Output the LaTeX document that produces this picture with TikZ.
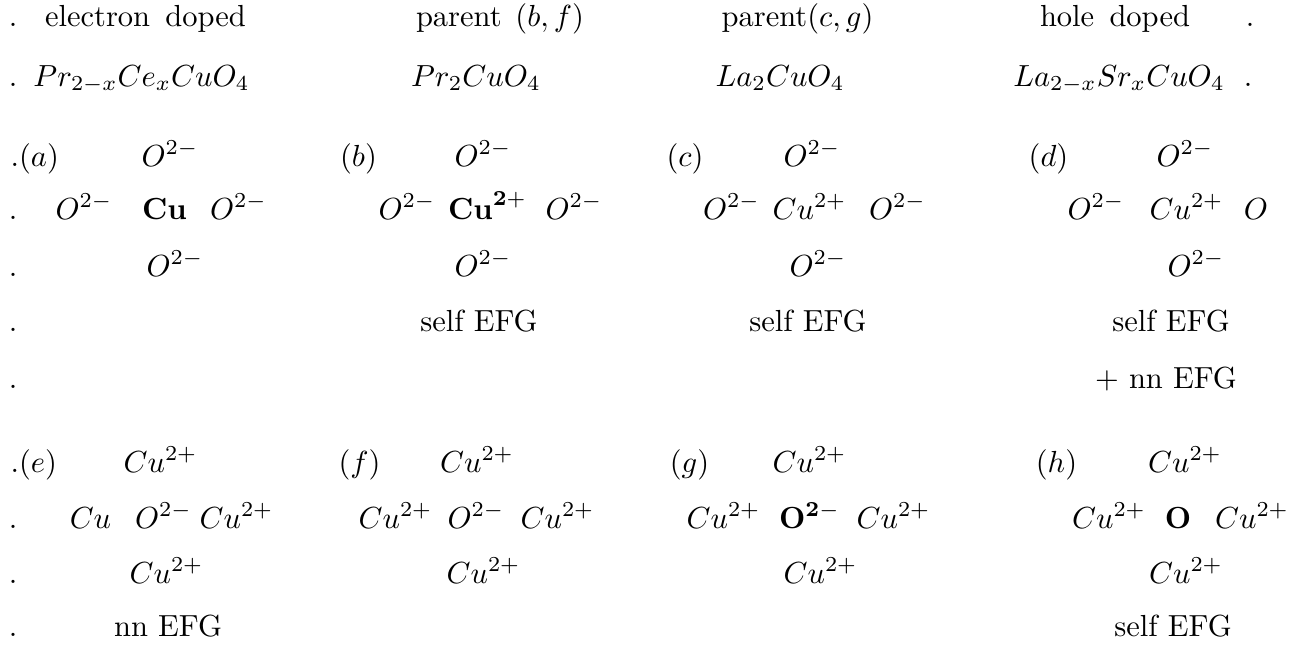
\documentclass[tikz,border=0pt]{standalone}
\begin{document}
\begin{tikzpicture}[x=0.3279pt,y=-0.3279pt,
  t/.style={inner sep=0pt, anchor=base, font=\fontsize{10}{12}\selectfont},
  tl/.style={t, anchor=base west}]
\useasboundingbox (0,0) rectangle (1306,646);
% row 1
\node[t] (d1) at (13,26) {.};
\node[t] (h1) at (145.5,26) {electron\hspace{5pt}doped};
\node[t] (h2) at (500,26) {parent\hspace{4.5pt}$(b,f)$};
\node[t] (h3) at (797.5,26) {parent$(c,g)$};
\node[t] (h4) at (1115,26) {hole\hspace{5pt}doped};
\node[t] (e1) at (1250,26) {.};
% row 2
\node[t] (d2) at (13,86) {.};
\node[t] (f1) at (141.5,86) {$Pr_{2-x}Ce_xCuO_4$};
\node[t] (f2) at (476,86) {$Pr_2CuO_4$};
\node[t] (f3) at (780,86) {$La_2CuO_4$};
\node[t] (f4) at (1119,86) {$La_{2-x}Sr_xCuO_4$};
\node[t] (e2) at (1248,86) {.};
% row 3
\node[tl] (la) at (10,166) {.$(a)$};
\node[t] (a1) at (170,166) {$O^{2-}$};
\node[t] (lb) at (358.5,166) {$(b)$};
\node[t] (b1) at (483,166) {$O^{2-}$};
\node[t] (lc) at (685,166) {$(c)$};
\node[t] (c1) at (812,166) {$O^{2-}$};
\node[t] (ld) at (1048.5,166) {$(d)$};
\node[t] (dd1) at (1185,166) {$O^{2-}$};
% row 4
\node[t] (d4) at (13,219) {.};
\node[t] (a2) at (84,219) {$O^{2-}$};
\node[t] (a3) at (164.5,219) {\textbf{Cu}};
\node[t] (a4) at (238.5,219) {$O^{2-}$};
\node[t] (b2) at (407,219) {$O^{2-}$};
\node[t] (b3) at (487.5,219) {$\mathbf{Cu}^{\mathbf{2}+}$};
\node[t] (b4) at (574,219) {$O^{2-}$};
\node[t] (c2) at (731.5,219) {$O^{2-}$};
\node[t] (c3) at (809.5,219) {$Cu^{2+}$};
\node[t] (c4) at (897.5,219) {$O^{2-}$};
\node[t] (dd2) at (1096,219) {$O^{2-}$};
\node[t] (dd3) at (1186.5,219) {$Cu^{2+}$};
\node[t] (dd4) at (1256,219) {$O$};
% row 5
\node[t] (d5) at (13,276) {.};
\node[t] (a5) at (175,276) {$O^{2-}$};
\node[t] (b5) at (483,276) {$O^{2-}$};
\node[t] (c5) at (818,276) {$O^{2-}$};
\node[t] (dd5) at (1196,276) {$O^{2-}$};
% row 6
\node[t] (d6) at (13,331) {.};
\node[t] (b6) at (479,331) {self EFG};
\node[t] (c6) at (808,331) {self EFG};
\node[t] (dd6) at (1171,331) {self EFG};
% row 7
\node[t] (d7) at (13,388) {.};
\node[t] (dd7) at (1166,388) {$+$ nn EFG};
% row 8
\node[tl] (le) at (10,472) {.$(e)$};
\node[t] (e8) at (160.5,472) {$Cu^{2+}$};
\node[t] (lf) at (359.5,472) {$(f)$};
\node[t] (f8) at (477,472) {$Cu^{2+}$};
\node[t] (lg) at (689.5,472) {$(g)$};
\node[t] (g8) at (809.5,472) {$Cu^{2+}$};
\node[t] (lh) at (1056.5,472) {$(h)$};
\node[t] (h8) at (1185,472) {$Cu^{2+}$};
% row 9
\node[t] (d9) at (13,528) {.};
\node[t] (e9a) at (90.5,528) {$Cu$};
\node[t] (e9b) at (163.5,528) {$O^{2-}$};
\node[t] (e9c) at (236.5,528) {$Cu^{2+}$};
\node[t] (f9a) at (395.5,528) {$Cu^{2+}$};
\node[t] (f9b) at (476,528) {$O^{2-}$};
\node[t] (f9c) at (557.5,528) {$Cu^{2+}$};
\node[t] (g9a) at (723.5,528) {$Cu^{2+}$};
\node[t] (g9b) at (809.5,528) {$\mathbf{O}^{\mathbf{2}-}$};
\node[t] (g9c) at (893.5,528) {$Cu^{2+}$};
\node[t] (h9a) at (1109,528) {$Cu^{2+}$};
\node[t] (h9b) at (1178,528) {$\mathbf{O}$};
\node[t] (h9c) at (1252,528) {$Cu^{2+}$};
% row 10
\node[t] (d10) at (13,583) {.};
\node[t] (e10) at (166.5,583) {$Cu^{2+}$};
\node[t] (f10) at (483.5,583) {$Cu^{2+}$};
\node[t] (g10) at (820.5,583) {$Cu^{2+}$};
\node[t] (h10) at (1186,583) {$Cu^{2+}$};
% row 11
\node[t] (d11) at (13,636) {.};
\node[t] (e11) at (168,636) {nn EFG};
\node[t] (h11) at (1173,636) {self EFG};
\end{tikzpicture}
\end{document}
